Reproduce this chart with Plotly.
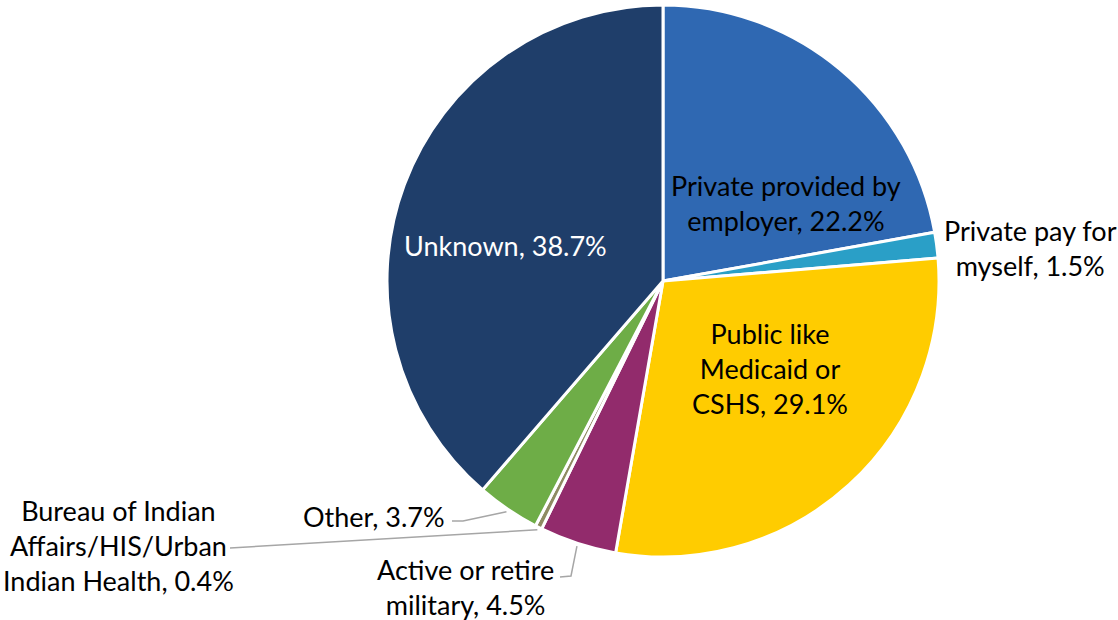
import math
import plotly.graph_objects as go

# ---- data ----
categories = [
    "Private provided by employer",
    "Private pay for myself",
    "Public like Medicaid or CSHS",
    "Active or retire military",
    "Bureau of Indian Affairs/HIS/Urban Indian Health",
    "Other",
    "Unknown",
]
values = [22.2, 1.5, 29.1, 4.5, 0.4, 3.7, 38.7]
label_texts = [
    "Private provided by<br>employer, 22.2%",
    "Private pay for<br>myself, 1.5%",
    "Public like<br>Medicaid or<br>CSHS, 29.1%",
    "Active or retire<br>military, 4.5%",
    "Bureau of Indian<br>Affairs/HIS/Urban<br>Indian Health, 0.4%",
    "Other, 3.7%",
    "Unknown, 38.7%",
]

# ---- style ----
colors = ["#2F68B2", "#2A9FC7", "#FFCC00", "#922B6C", "#8E8B62", "#6EAD47", "#1F3E6A"]
W, H = 1118, 620
CX, CY, R = 663, 281, 276
FONT = "Lato"
FS = 27

# label placement (pixel centres of text blocks), text colour, anchor
label_style = [
    dict(x=786, y=203, color="#000000", xanchor="center"),
    dict(x=1030, y=248, color="#000000", xanchor="center"),
    dict(x=770, y=368, color="#000000", xanchor="center"),
    dict(x=465, y=587, color="#000000", xanchor="center"),
    dict(x=118, y=545, color="#000000", xanchor="center"),
    dict(x=447, y=516, color="#000000", xanchor="right"),
    dict(x=505, y=245, color="#FFFFFF", xanchor="center"),
]
# leader lines: start points near label (pixels), then an elbow, ending at slice edge
leader_style = {
    3: [(560, 577), (571, 576)],
    4: [(230, 548)],
    5: [(452, 521), (463, 521)],
}

def px(x):
    return x / W

def py(y):
    return 1 - y / H

fig = go.Figure(
    go.Pie(
        labels=categories,
        values=values,
        sort=False,
        direction="clockwise",
        rotation=0,
        marker=dict(colors=colors, line=dict(color="#FFFFFF", width=3)),
        textinfo="none",
        hoverinfo="label+percent",
        domain=dict(x=[px(CX - R), px(CX + R)], y=[py(CY + R), py(CY - R)]),
        showlegend=False,
    )
)

total = sum(values)
cum = 0.0
mids = []
for v in values:
    mids.append((cum + v / 2) / total * 2 * math.pi)
    cum += v

annotations = []
for txt, st in zip(label_texts, label_style):
    annotations.append(
        dict(
            text=txt,
            x=px(st["x"]),
            y=py(st["y"]),
            xref="paper",
            yref="paper",
            xanchor=st["xanchor"],
            yanchor="middle",
            showarrow=False,
            align="center",
            font=dict(family=FONT, size=FS, color=st["color"]),
        )
    )

shapes = []
for i, pts in leader_style.items():
    a = mids[i]
    ex = CX + R * 1.01 * math.sin(a)
    ey = CY - R * 1.01 * math.cos(a)
    path_pts = pts + [(ex, ey)]
    d = "M " + " L ".join(f"{px(x)},{py(y)}" for x, y in path_pts)
    shapes.append(
        dict(
            type="path",
            path=d,
            xref="paper",
            yref="paper",
            line=dict(color="#A6A6A6", width=1.5),
        )
    )

fig.update_layout(
    width=W,
    height=H,
    margin=dict(l=0, r=0, t=0, b=0),
    paper_bgcolor="#FFFFFF",
    plot_bgcolor="#FFFFFF",
    annotations=annotations,
    shapes=shapes,
)

fig.write_html("out.html")
